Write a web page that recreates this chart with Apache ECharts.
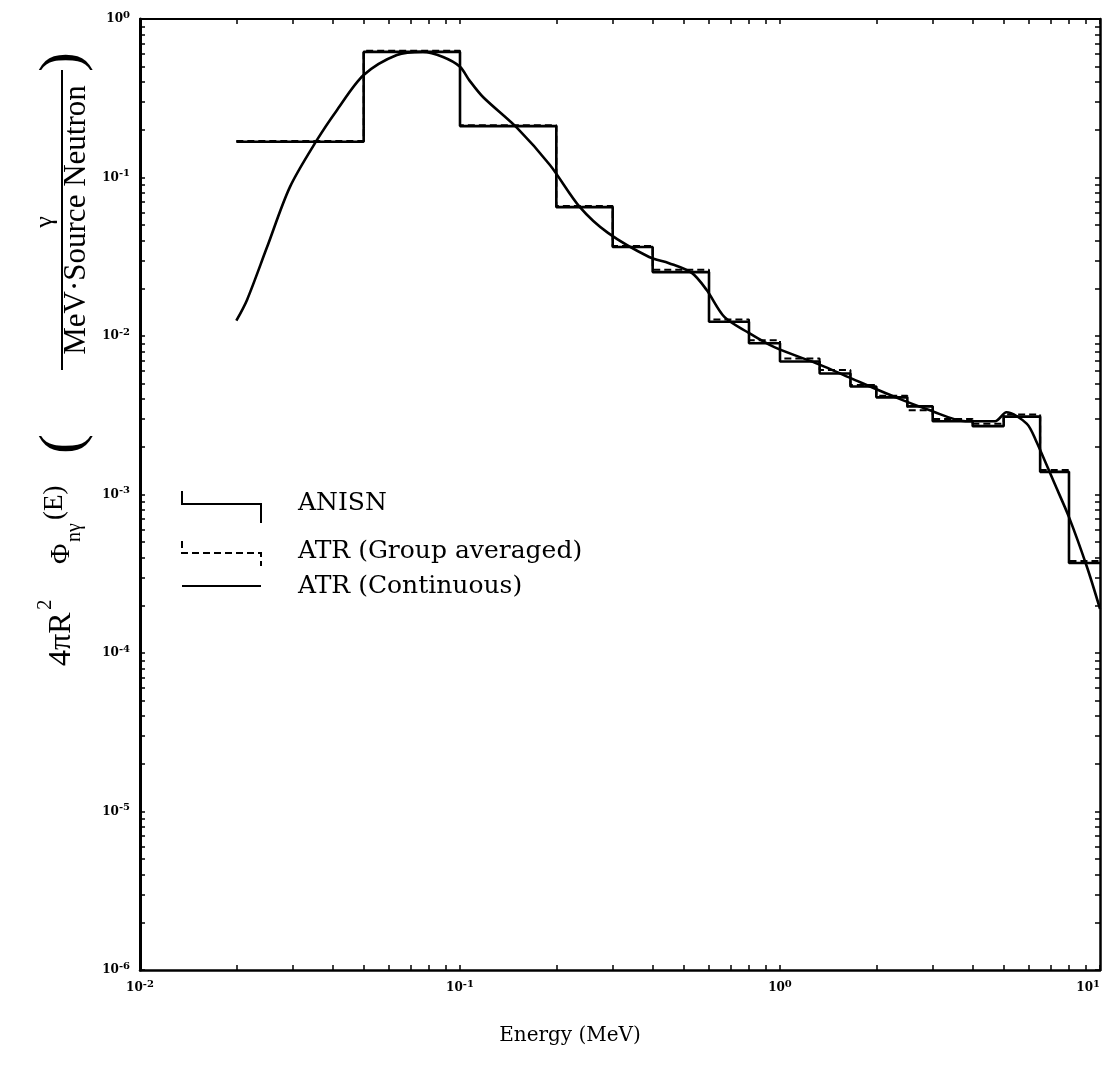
<!DOCTYPE html>
<html><head><meta charset="utf-8">
<script src="https://cdn.jsdelivr.net/npm/echarts@6/dist/echarts.min.js"></script>
<style>html,body{margin:0;padding:0;background:#fff}#c{width:1108px;height:1066px}</style>
</head><body><div id="c"></div>
<script>
// ---- data ----
const groupEdges = [0.02, 0.05, 0.1, 0.2, 0.3, 0.4, 0.6, 0.8, 1.0, 1.33, 1.66, 2.0, 2.5, 3.0, 4.0, 5.0, 6.5, 8.0, 10.0];
const anisnValues = [0.168, 0.62, 0.211, 0.065, 0.0364, 0.0253, 0.0123, 0.0090, 0.0069, 0.0058, 0.0048, 0.0041, 0.0036, 0.0029, 0.0027, 0.0031, 0.00139, 0.00037];
const atrGroupValues = [0.170, 0.63, 0.214, 0.066, 0.0370, 0.0262, 0.0127, 0.0094, 0.0072, 0.0061, 0.0049, 0.0042, 0.0034, 0.0030, 0.0028, 0.0032, 0.00143, 0.00038];
const contEnergy = [0.020, 0.0216, 0.0249, 0.0294, 0.0357, 0.0413, 0.05, 0.0635, 0.0766, 0.0885, 0.1, 0.107, 0.118, 0.151, 0.191, 0.237, 0.29, 0.39, 0.45, 0.53, 0.59, 0.67, 0.79, 0.96, 1.33, 1.67, 2.3, 2.94, 3.8, 4.7, 5.1, 5.9, 6.3, 7.2, 8.0, 9.1, 10.0];
const contValue = [0.0125, 0.0169, 0.036, 0.087, 0.172, 0.267, 0.443, 0.593, 0.62, 0.576, 0.50, 0.41, 0.322, 0.205, 0.12, 0.065, 0.0447, 0.0315, 0.0288, 0.025, 0.0195, 0.0132, 0.0106, 0.0085, 0.0066, 0.0054, 0.0041, 0.0034, 0.0029, 0.0029, 0.0033, 0.0028, 0.0022, 0.00118, 0.00072, 0.00035, 0.00019];
const xTickLabels = [0.01, 0.1, 1, 10];
const yTickLabels = [1e-6, 1e-5, 1e-4, 1e-3, 1e-2, 1e-1, 1];
const seriesNames = ['ANISN', 'ATR (Group averaged)', 'ATR (Continuous)'];

function stepData(edges, vals) {
  const d = vals.map((v, i) => [edges[i], v]);
  d.push([edges[edges.length - 1], vals[vals.length - 1]]);
  return d;
}
function logTicks(lo, hi) {
  const out = [];
  for (let e = lo; e < hi; e++) for (let m = 1; m <= 9; m++) out.push(+(m * Math.pow(10, e)).toPrecision(3));
  out.push(Math.pow(10, hi));
  return out;
}
const xMinor = logTicks(-2, 1);
const yMinor = logTicks(-6, 0);
function pow10Label(v) {
  const e = Math.round(Math.log10(v));
  return '{b|10}{s|' + (e < 0 ? '-' + (-e) : e) + '}';
}
const labelRich = {
  b: { fontSize: 12, fontWeight: 'bold', fontFamily: 'DejaVu Serif', color: '#000' },
  s: { fontSize: 10, fontWeight: 'bold', fontFamily: 'DejaVu Serif', color: '#000', padding: [0, 0, 8, 0] }
};
const axisLineStyle = { color: '#000', width: 2.5 };
const tickStyle = { color: '#000', width: 1.5 };

const chart = echarts.init(document.getElementById('c'), null, { renderer: 'canvas' });
const serif = '"Liberation Serif", "Times New Roman", serif';
const wideSerif = '"DejaVu Serif", serif';
chart.setOption({
  backgroundColor: '#fff',
  animation: false,
  grid: { left: 140, right: 8, top: 19, bottom: 96, containLabel: false, outerBoundsMode: 'none' },
  xAxis: [
    { type: 'log', logBase: 10, min: 0.01, max: 10, position: 'bottom',
      axisLine: { show: true, lineStyle: axisLineStyle },
      axisTick: { show: true, inside: true, length: 5, customValues: xMinor, lineStyle: tickStyle },
      axisLabel: { customValues: xTickLabels, formatter: pow10Label, rich: labelRich, margin: 9, alignMaxLabel: 'right' },
      splitLine: { show: false }, minorTick: { show: false } },
    { type: 'log', logBase: 10, min: 0.01, max: 10, position: 'top',
      axisLine: { show: true, lineStyle: { color: '#000', width: 2 } },
      axisTick: { show: true, inside: true, length: 5, customValues: xMinor, lineStyle: tickStyle },
      axisLabel: { show: false }, splitLine: { show: false } }
  ],
  yAxis: [
    { type: 'log', logBase: 10, min: 1e-6, max: 1, position: 'left',
      axisLine: { show: true, lineStyle: { color: '#000', width: 3 } },
      axisTick: { show: true, inside: true, length: 5, customValues: yMinor, lineStyle: tickStyle },
      axisLabel: { customValues: yTickLabels, formatter: pow10Label, rich: labelRich, margin: 10 },
      splitLine: { show: false } },
    { type: 'log', logBase: 10, min: 1e-6, max: 1, position: 'right',
      axisLine: { show: true, lineStyle: { color: '#000', width: 2.5 } },
      axisTick: { show: true, inside: true, length: 5, customValues: yMinor, lineStyle: tickStyle },
      axisLabel: { show: false }, splitLine: { show: false } }
  ],
  series: [
    { name: seriesNames[0], type: 'line', step: 'end', data: stepData(groupEdges, anisnValues),
      showSymbol: false, lineStyle: { color: '#000', width: 2.6 }, z: 3 },
    { name: seriesNames[1], type: 'line', step: 'end', data: stepData(groupEdges, atrGroupValues),
      showSymbol: false, lineStyle: { color: '#000', width: 2, type: [7, 4] }, z: 2 },
    { name: seriesNames[2], type: 'line', smooth: 0.3, data: contEnergy.map((e, i) => [e, contValue[i]]),
      showSymbol: false, lineStyle: { color: '#000', width: 2.6 }, z: 4 }
  ],
  graphic: [
    // legend
    { type: 'polyline', shape: { points: [[182, 491], [182, 504], [261, 504], [261, 523]] }, style: { stroke: '#000', lineWidth: 2, fill: null } },
    { type: 'polyline', shape: { points: [[182, 541], [182, 553], [261, 553], [261, 566]] }, style: { stroke: '#000', lineWidth: 2, fill: null, lineDash: [7, 4] } },
    { type: 'line', shape: { x1: 182, y1: 586, x2: 261, y2: 586 }, style: { stroke: '#000', lineWidth: 2 } },
    { type: 'text', style: { text: seriesNames[0], x: 298, y: 503, font: '25px ' + wideSerif, fill: '#000', align: 'left', verticalAlign: 'middle' } },
    { type: 'text', style: { text: seriesNames[1], x: 298, y: 551, font: '25px ' + wideSerif, fill: '#000', align: 'left', verticalAlign: 'middle' } },
    { type: 'text', style: { text: seriesNames[2], x: 298, y: 586, font: '25px ' + wideSerif, fill: '#000', align: 'left', verticalAlign: 'middle' } },
    // x axis title
    { type: 'text', style: { text: 'Energy (MeV)', x: 570, y: 1036, font: '20px ' + wideSerif, fill: '#000', align: 'center', verticalAlign: 'middle' } },
    // y axis title (rotated)
    { type: 'group', x: 62, y: 668, rotation: Math.PI / 2, children: [
      { type: 'text', style: { text: '4πR', x: 2, y: 0, font: '32px ' + serif, fill: '#000', align: 'left', verticalAlign: 'middle' } },
      { type: 'text', style: { text: '2', x: 58, y: -17, font: '21px ' + serif, fill: '#000', align: 'left', verticalAlign: 'middle' } },
      { type: 'text', style: { text: 'Φ', x: 104, y: 0, font: '28px ' + serif, fill: '#000', align: 'left', verticalAlign: 'middle' } },
      { type: 'text', style: { text: 'nγ', x: 126, y: 13, font: '20px ' + serif, fill: '#000', align: 'left', verticalAlign: 'middle' } },
      { type: 'text', style: { text: '(E)', x: 148, y: -7, font: '27px ' + serif, fill: '#000', align: 'left', verticalAlign: 'middle' } },
      { type: 'text', style: { text: '(', x: 224, y: 2, font: '60px ' + serif, fill: '#000', align: 'center', verticalAlign: 'middle' } },
      { type: 'text', style: { text: 'γ', x: 446, y: -17, font: '26px ' + serif, fill: '#000', align: 'center', verticalAlign: 'middle' } },
      { type: 'line', shape: { x1: 298, y1: 0, x2: 598, y2: 0 }, style: { stroke: '#000', lineWidth: 2 } },
      { type: 'text', style: { text: 'MeV·Source Neutron', x: 448, y: 15, font: '31px ' + serif, fill: '#000', align: 'center', verticalAlign: 'middle' } },
      { type: 'text', style: { text: ')', x: 606, y: 2, font: '60px ' + serif, fill: '#000', align: 'center', verticalAlign: 'middle' } }
    ] }
  ]
});
</script></body></html>
